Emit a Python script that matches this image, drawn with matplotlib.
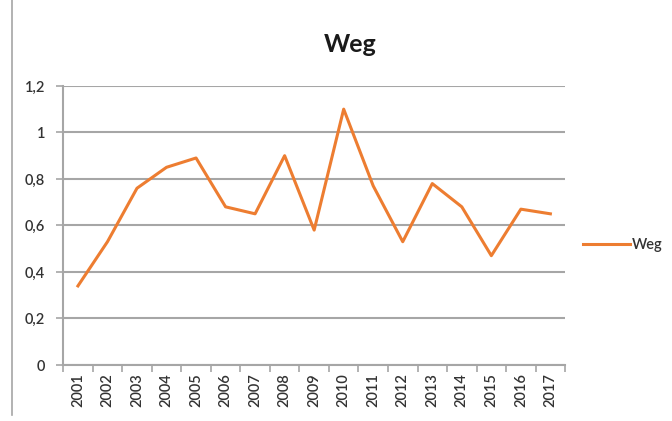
import numpy as np
import matplotlib.pyplot as plt
from matplotlib.ticker import FuncFormatter

# Data
years = [str(y) for y in range(2001, 2018)]
weg = [0.34, 0.53, 0.76, 0.85, 0.89, 0.68, 0.65, 0.90, 0.58, 1.10,
       0.77, 0.53, 0.78, 0.68, 0.47, 0.67, 0.65]
yticks = [0, 0.2, 0.4, 0.6, 0.8, 1.0, 1.2]

plt.rcParams['font.family'] = ['Lato', 'DejaVu Sans']

fig = plt.figure(figsize=(6.72, 4.21), dpi=100)
ax = fig.add_axes([0.094, 0.133, 0.747, 0.663])

x = np.arange(len(years))
ax.plot(x, weg, color='#ED7D31', lw=2.2, label='Weg')

ax.set_xlim(-0.5, len(years) - 0.5)
ax.set_ylim(0, 1.2)
ax.set_yticks(yticks)
ax.yaxis.set_major_formatter(FuncFormatter(
    lambda v, p: ('%g' % round(v, 1)).replace('.', ',')))
ax.grid(axis='y', color='#a6a6a6', lw=1.5)
ax.set_axisbelow(True)

# category boundaries for ticks, labels in the middle
ax.set_xticks(np.arange(-0.5, len(years), 1.0))
ax.set_xticklabels([])
ax.set_xticks(x, minor=True)
ax.set_xticklabels(years, minor=True, rotation=90, fontsize=10.5,
                   color='#333333', fontweight='semibold')
ax.tick_params(axis='x', which='major', length=5, color='#a6a6a6', width=1.2)
ax.tick_params(axis='x', which='minor', length=0, pad=6)
ax.tick_params(axis='y', length=5, color='#a6a6a6', width=1.2, labelsize=10.5,
               labelcolor='#333333', pad=8)
for t in ax.get_yticklabels():
    t.set_fontweight('semibold')

for s in ['top', 'right']:
    ax.spines[s].set_visible(False)
for s in ['left', 'bottom']:
    ax.spines[s].set_color('#a6a6a6')
    ax.spines[s].set_linewidth(1.5)

fig.text(350 / 672, 1 - 45 / 421, 'Weg', ha='center', va='center',
         fontsize=18, fontweight='bold', color='#1a1a1a')

leg = ax.legend(loc='center left', bbox_to_anchor=(1.01, 0.43), frameon=False,
                handlelength=3.2, handletextpad=0.15, fontsize=10.5,
                labelcolor='#333333')
for t in leg.get_texts():
    t.set_fontweight('semibold')

# left border line of the picture
fig.add_artist(plt.Line2D([12 / 672, 12 / 672], [1 - 415 / 421, 1.0],
                          color='#a6a6a6', lw=1.2))

fig.savefig('out.png', dpi=100)
